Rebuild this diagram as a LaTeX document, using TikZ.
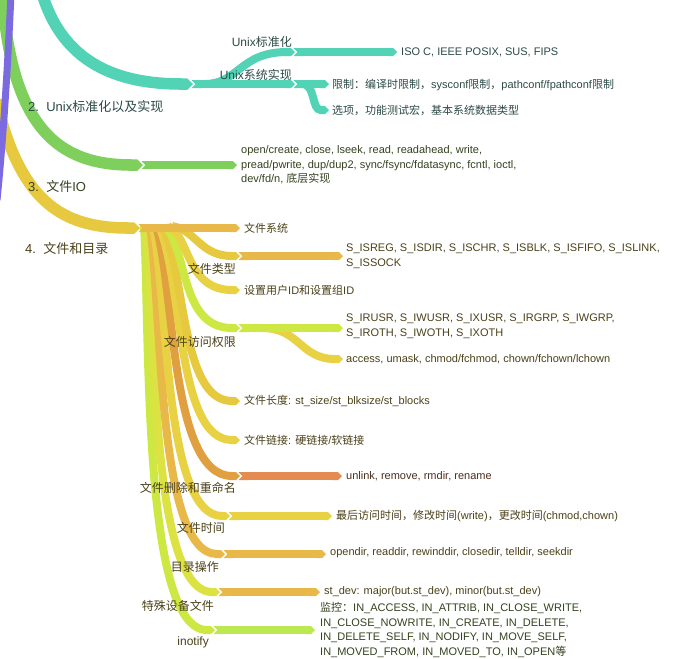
\documentclass[tikz,border=0pt]{standalone}
\usepackage{fontspec}
\setmainfont{Liberation Sans}
\newfontfamily\cjk{Noto Sans CJK SC}
\newcommand{\zh}[1]{{\cjk #1}}
\usetikzlibrary{arrows.meta}
\definecolor{cTeal}{HTML}{52D3B6}
\definecolor{cGreen}{HTML}{7ECF5C}
\definecolor{cYel}{HTML}{E7C93F}
\definecolor{cPurp}{HTML}{7B6AE0}
\definecolor{cOrY}{HTML}{E8B848}
\definecolor{cYel2}{HTML}{E8D244}
\definecolor{cLime}{HTML}{CDE843}
\definecolor{cLime2}{HTML}{BCE852}
\definecolor{cOr}{HTML}{E0A040}
\definecolor{cSalm}{HTML}{E38B50}
\definecolor{cYG}{HTML}{DCE242}
\definecolor{tTeal}{HTML}{2C4A46}
\definecolor{tGreen}{HTML}{34421F}
\definecolor{tYel}{HTML}{4B4119}
\definecolor{tOr}{HTML}{4A3020}
\begin{document}
\begin{tikzpicture}[x=1pt,y=-1pt,
  br/.style={line width=8pt,shorten <=-1.5pt,{Triangle Cap[reversed]}-{Triangle Cap}},
  cbr/.style={line width=8pt,-{Triangle Cap}},
  mainbr/.style={line width=11.5pt,-{Triangle Cap}},
  leaf/.style={font=\fontsize{11}{14.5}\selectfont,inner sep=0pt,anchor=west,align=left},
  sublab/.style={font=\fontsize{12}{14}\selectfont,inner sep=0pt,anchor=east},
  toplab/.style={font=\fontsize{13}{15}\selectfont,inner sep=0pt,anchor=west}]
\useasboundingbox (0,0) rectangle (673,659);
\fill[white] (0,0) rectangle (673,659);

% ---------- coordinates ----------
\coordinate (t0) at (40,-14);
\coordinate (t1) at (193,84);
\coordinate (u1s) at (205,84);
\coordinate (u1) at (295,52);
\coordinate (iso) at (397,52);
\coordinate (u2) at (295,84);
\coordinate (lim) at (329,84);
\coordinate (opts) at (302,84);
\coordinate (opt) at (329,110);

\coordinate (g0) at (2,-12);
\coordinate (g1) at (143,165);
\coordinate (g2) at (237,165);

\coordinate (y0) at (-4,100);
\coordinate (y1) at (140,228);
\coordinate (fs) at (240,228);

\coordinate (p0) at (11,-6);
\coordinate (p1) at (-3,200);

% ---------- teal branch ----------
\draw[mainbr,cTeal] (t0) .. controls (60,65) and (120,84) .. (t1);
\draw[cbr,cTeal] (u1s) .. controls (238,84) and (240,52) .. (u1);
\draw[br,cTeal] (t1) -- (u2);
\draw[br,cTeal] (u1) -- (iso);
\draw[cbr,cTeal] (opts) .. controls (316,84) and (311,110) .. (opt);
\draw[br,cTeal] (u2) -- (lim);

% ---------- green branch ----------
\draw[mainbr,cGreen] (g0) .. controls (10,130) and (60,165) .. (g1);
\draw[br,cGreen] (g1) -- (g2);

% ---------- yellow branch ----------
\draw[mainbr,cYel] (y0) .. controls (20,200) and (60,228) .. (y1);

% sub-branch tips
\coordinate (b10) at (215,630);
\coordinate (b9) at (220,592);
\coordinate (b8) at (225,554);
\coordinate (b7) at (230,516);
\coordinate (b6) at (240,476);
\coordinate (b5) at (240,440);
\coordinate (b4) at (240,401);
\coordinate (b3) at (240,328);
\coordinate (b2) at (240,290);
\coordinate (b1) at (240,256);

\draw[cbr,cLime] (144,226) .. controls (150,330) and (142,630) .. (b10);
\draw[cbr,cYG] (147,226) .. controls (155,320) and (150,592) .. (b9);
\draw[cbr,cOrY] (150,226) .. controls (162,310) and (157,554) .. (b8);
\draw[cbr,cYel2] (153,226) .. controls (168,300) and (164,516) .. (b7);
\draw[cbr,cOr] (156,226) .. controls (175,290) and (170,476) .. (b6);
\draw[cbr,cYel2] (159,226) .. controls (183,280) and (176,440) .. (b5);
\draw[cbr,cYel] (162,226) .. controls (186,270) and (180,401) .. (b4);
\draw[cbr,cLime] (165,226) .. controls (188,250) and (180,328) .. (b3);
\draw[cbr,cYel2] (168,226) .. controls (190,236) and (186,290) .. (b2);
\draw[cbr,cYel] (172,226) .. controls (196,230) and (200,256) .. (b1);

\draw[br,cOrY] (y1) -- (fs);

% sub-sub segments
\coordinate (s1) at (343,256);
\coordinate (s3) at (343,328);
\coordinate (s3bs) at (262,328);
\coordinate (s3b) at (343,359);
\coordinate (s6) at (342,476);
\coordinate (s7) at (332,516);
\coordinate (s8) at (326,554);
\coordinate (s9) at (320,592);
\coordinate (s10) at (315,630);

\draw[br,cOrY] (b1) -- (s1);
\draw[cbr,cYel2] (s3bs) .. controls (300,328) and (300,359) .. (s3b);
\draw[br,cLime] (b3) -- (s3);
\draw[br,cSalm] (b6) -- (s6);
\draw[br,cYel2] (b7) -- (s7);
\draw[br,cOrY] (b8) -- (s8);
\draw[br,cOrY] (b9) -- (s9);
\draw[br,cLime2] (b10) -- (s10);

% purple line at the edge
\draw[line width=7pt,cPurp] (p0) .. controls (8,60) and (4,130) .. (p1);

% ---------- texts ----------
\node[toplab,text=tTeal] (n2) at (28,107) {2.\ \ Unix\zh{标准化以及实现}};
\node[toplab,text=tGreen] (n3) at (28,187) {3.\ \ \zh{文件}IO};
\node[toplab,text=tYel] (n4) at (25,249) {4.\ \ \zh{文件和目录}};

\node[sublab,text=tTeal] (l_std) at (292,42) {Unix\zh{标准化}};
\node[sublab,text=tTeal] (l_impl) at (292,75) {Unix\zh{系统实现}};
\node[leaf,text=tTeal] (x_iso) at (401,52) {ISO C, IEEE POSIX, SUS, FIPS};
\node[leaf,text=tTeal] (x_lim) at (332,85) {\zh{限制：编译时限制，}sysconf\zh{限制，}pathconf/fpathconf\zh{限制}};
\node[leaf,text=tTeal] (x_opt) at (332,110) {\zh{选项，功能测试宏，基本系统数据类型}};

\node[leaf,text=tGreen] (x_io) at (241,165) {open/create, close, lseek, read, readahead, write,\\pread/pwrite, dup/dup2, sync/fsync/fdatasync, fcntl, ioctl,\\dev/fd/n, \zh{底层实现}};

\node[leaf,text=tYel] (x_fs) at (244,228) {\zh{文件系统}};
\node[sublab,text=tYel] (l_type) at (236,269) {\zh{文件类型}};
\node[leaf,text=tYel] (x_type) at (346,256) {S\_ISREG, S\_ISDIR, S\_ISCHR, S\_ISBLK, S\_ISFIFO, S\_ISLINK,\\S\_ISSOCK};
\node[leaf,text=tYel] (x_suid) at (244,290) {\zh{设置用户}ID\zh{和设置组}ID};
\node[sublab,text=tYel] (l_perm) at (236,342) {\zh{文件访问权限}};
\node[leaf,text=tYel] (x_perm) at (346,326) {S\_IRUSR, S\_IWUSR, S\_IXUSR, S\_IRGRP, S\_IWGRP,\\S\_IROTH, S\_IWOTH, S\_IXOTH};
\node[leaf,text=tYel] (x_acc) at (346,359) {access, umask, chmod/fchmod, chown/fchown/lchown};
\node[leaf,text=tYel] (x_len) at (244,401) {\zh{文件长度}: st\_size/st\_blksize/st\_blocks};
\node[leaf,text=tYel] (x_lnk) at (244,440) {\zh{文件链接}: \zh{硬链接}/\zh{软链接}};
\node[sublab,text=tYel] (l_del) at (236,488) {\zh{文件删除和重命名}};
\node[leaf,text=tOr] (x_del) at (346,476) {unlink, remove, rmdir, rename};
\node[sublab,text=tYel] (l_time) at (225,528) {\zh{文件时间}};
\node[leaf,text=tYel] (x_time) at (336,516) {\zh{最后访问时间，修改时间}(write)\zh{，更改时间}(chmod,chown)};
\node[sublab,text=tYel] (l_dir) at (219,567) {\zh{目录操作}};
\node[leaf,text=tYel] (x_dir) at (330,553) {opendir, readdir, rewinddir, closedir, telldir, seekdir};
\node[sublab,text=tYel] (l_dev) at (214,606) {\zh{特殊设备文件}};
\node[leaf,text=tYel] (x_dev) at (324,592) {st\_dev: major(but.st\_dev), minor(but.st\_dev)};
\node[sublab,text=tYel] (l_ino) at (209,642) {inotify};
\node[leaf,text=tGreen] (x_ino) at (320,630) {\zh{监控：}IN\_ACCESS, IN\_ATTRIB, IN\_CLOSE\_WRITE,\\IN\_CLOSE\_NOWRITE, IN\_CREATE, IN\_DELETE,\\IN\_DELETE\_SELF, IN\_NODIFY, IN\_MOVE\_SELF,\\IN\_MOVED\_FROM, IN\_MOVED\_TO, IN\_OPEN\zh{等}};
\end{tikzpicture}
\end{document}
